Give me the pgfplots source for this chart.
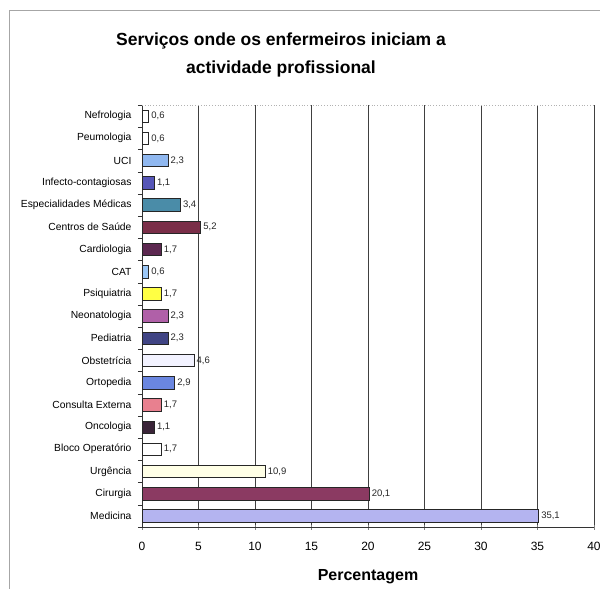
\documentclass[border=0pt]{standalone}
\usepackage{pgfplots}
\pgfplotsset{compat=1.18}
\usepackage{fontspec}
\setmainfont{Liberation Sans}
\definecolor{cMed}{HTML}{B4B4F0}
\definecolor{cCir}{HTML}{8B3A62}
\definecolor{cUrg}{HTML}{FFFFE6}
\definecolor{cBlo}{HTML}{FFFFFF}
\definecolor{cOnc}{HTML}{3A2438}
\definecolor{cCon}{HTML}{E8808F}
\definecolor{cOrt}{HTML}{6A86E0}
\definecolor{cObs}{HTML}{F2F2FF}
\definecolor{cPed}{HTML}{404484}
\definecolor{cNeo}{HTML}{B060A8}
\definecolor{cPsi}{HTML}{FFFF44}
\definecolor{cCAT}{HTML}{9CC8F8}
\definecolor{cCar}{HTML}{5C2850}
\definecolor{cCen}{HTML}{7A2E48}
\definecolor{cEsp}{HTML}{4A8CA8}
\definecolor{cInf}{HTML}{5656B8}
\definecolor{cUCI}{HTML}{90B8F0}
\begin{document}
\begin{tikzpicture}
\useasboundingbox (0pt,0pt) rectangle (600pt,-589pt);
\draw[gray!70, line width=0.8pt] (9pt,-589pt) -- (9pt,-10pt) -- (600pt,-10pt);
\node[font=\fontsize{17.5}{28}\selectfont\bfseries, align=center] at (281pt,-55pt)
  {Serviços onde os enfermeiros iniciam a\\actividade profissional};
\begin{axis}[
  at={(142pt,-527pt)}, anchor=south west,
  scale only axis, width=452pt, height=422pt,
  xbar, bar width=12.5pt,
  xmin=0, xmax=40, ymin=-0.5, ymax=18.5,
  xtick={0,5,...,40},
  x tick label style={font=\fontsize{12}{14}\selectfont, yshift=-9pt},
  /pgf/number format/assume math mode=true,
  xmajorgrids, major grid style={black!75, line width=0.6pt},
  axis x line*=bottom, axis y line*=left,
  axis line style={black!80, line width=0.7pt},
  x axis line style={-}, y axis line style={-},
  xtick align=center, major tick length=5pt,
  ytick={0,...,18},
  yticklabels={Medicina,Cirurgia,Urgência,Bloco Operatório,Oncologia,Consulta Externa,Ortopedia,Obstetrícia,Pediatria,Neonatologia,Psiquiatria,CAT,Cardiologia,Centros de Saúde,Especialidades Médicas,Infecto-contagiosas,UCI,Peumologia,Nefrologia},
  y tick label style={font=\fontsize{10.3}{12}\selectfont, xshift=-2pt},
  every major y tick/.style={draw=none},
  minor ytick={-0.5,0.5,...,18.5},
  minor y tick style={black!80},
  minor tick length=4pt, ytick align=outside,
  xlabel={Percentagem},
  xlabel style={font=\fontsize{16}{18}\selectfont\bfseries, yshift=-12pt},
  nodes near coords,
  every node near coord/.append style={font=\fontsize{9.5}{11}\selectfont, anchor=west, black!85, xshift=-1pt},
  nodes near coords style={/pgf/number format/.cd, fixed, fixed zerofill, precision=1, use comma},
  every axis plot/.append style={bar shift=0pt, draw=black!85, line width=0.6pt},
  clip=false,
]
\draw[black!30, dotted, line width=0.8pt] (rel axis cs:0,1) -- (rel axis cs:1,1);
\addplot[fill=cMed] coordinates {(35.1,0)};
\addplot[fill=cCir] coordinates {(20.1,1)};
\addplot[fill=cUrg] coordinates {(10.9,2)};
\addplot[fill=cBlo] coordinates {(1.7,3)};
\addplot[fill=cOnc] coordinates {(1.1,4)};
\addplot[fill=cCon] coordinates {(1.7,5)};
\addplot[fill=cOrt] coordinates {(2.9,6)};
\addplot[fill=cObs] coordinates {(4.6,7)};
\addplot[fill=cPed] coordinates {(2.3,8)};
\addplot[fill=cNeo] coordinates {(2.3,9)};
\addplot[fill=cPsi] coordinates {(1.7,10)};
\addplot[fill=cCAT] coordinates {(0.6,11)};
\addplot[fill=cCar] coordinates {(1.7,12)};
\addplot[fill=cCen] coordinates {(5.2,13)};
\addplot[fill=cEsp] coordinates {(3.4,14)};
\addplot[fill=cInf] coordinates {(1.1,15)};
\addplot[fill=cUCI] coordinates {(2.3,16)};
\addplot[fill=white] coordinates {(0.6,17)};
\addplot[fill=white] coordinates {(0.6,18)};
\end{axis}
\end{tikzpicture}
\end{document}
